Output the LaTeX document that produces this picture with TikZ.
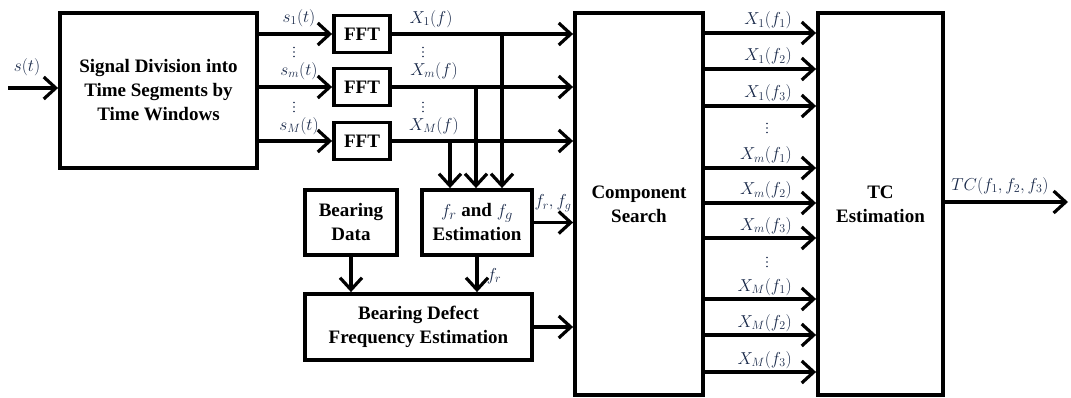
\documentclass[tikz,border=0pt]{standalone}
\usepackage{fontspec}
\setmainfont{Liberation Serif}
\usetikzlibrary{arrows.meta}
\definecolor{mathc}{HTML}{1A2A4A}
\begin{document}
\begin{tikzpicture}[x=1pt,y=-1pt,
  blk/.style={draw=black,line width=3.8pt,align=center,inner sep=0pt,
    font=\fontsize{19}{24}\selectfont\bfseries},
  conn/.style={line width=3.2pt,-{Straight Barb[length=12pt,width=22pt]}},
  lbl/.style={inner sep=0pt,text=mathc,font=\fontsize{18}{20}\selectfont},
  dot/.style={fill=mathc}]
\useasboundingbox (0,0) rectangle (1071,398);
% blocks
\node[blk,minimum width=197pt,minimum height=155pt] (sig) at (158.5,90.5) {Signal Division into\\Time Segments by\\Time Windows};
\node[blk,minimum width=56pt,minimum height=37pt] (fft1) at (362,34) {FFT};
\node[blk,minimum width=56pt,minimum height=37pt] (fft2) at (362,87) {FFT};
\node[blk,minimum width=56pt,minimum height=37pt] (fft3) at (362,141) {FFT};
\node[blk,minimum width=128pt,minimum height=382pt] (comp) at (639,204) {Component\\Search};
\node[blk,minimum width=125pt,minimum height=382pt] (tc) at (880.5,204) {TC\\Estimation};
\node[blk,minimum width=110pt,minimum height=65pt] (fre) at (477,222.5) {$\color{mathc}f_r$ and $\color{mathc}f_g$\\Estimation};
\node[blk,minimum width=92pt,minimum height=65pt] (bd) at (351,222.5) {Bearing\\Data};
\node[blk,minimum width=227pt,minimum height=66pt] (bdf) at (418.5,327) {Bearing Defect\\Frequency Estimation};
% input
\coordinate (in) at (8,88);
\draw[conn] (in) -- (in -| sig.west);
\node[lbl] (sl) at (27,67) {$s(t)$};
% signal to FFT
\draw[conn] (sig.east |- fft1) -- (fft1.west);
\draw[conn] (sig.east |- fft2) -- (fft2.west);
\draw[conn] (sig.east |- fft3) -- (fft3.west);
\node[lbl] (s1) at (299,18) {$s_1(t)$};
\node[lbl] (sm) at (299,71) {$s_m(t)$};
\node[lbl] (sM) at (299,126) {$s_M(t)$};
% FFT to component search
\draw[conn] (fft1.east) -- (fft1 -| comp.west);
\draw[conn] (fft2.east) -- (fft2 -| comp.west);
\draw[conn] (fft3.east) -- (fft3 -| comp.west);
\node[lbl] (x1) at (431,19) {$X_1(f)$};
\node[lbl] (xm) at (434,71) {$X_m(f)$};
\node[lbl] (xM) at (434,126) {$X_M(f)$};
% vertical dots
\foreach \x/\y in {294/52, 294/107, 423/52, 423/107, 767/128, 767/262}{
  \fill[dot] (\x,\y-4.5) circle (0.9pt) (\x,\y) circle (0.9pt) (\x,\y+4.5) circle (0.9pt);
}
% taps
\coordinate (t1) at (502,34);
\coordinate (t2) at (476,87);
\coordinate (t3) at (450,141);
\draw[conn] (t1) -- (t1 |- fre.north);
\draw[conn] (t2) -- (t2 |- fre.north);
\draw[conn] (t3) -- (t3 |- fre.north);
% lower blocks
\draw[conn] (fre.east) -- (fre -| comp.west);
\node[lbl] (frfg) at (553,203) {$f_r,f_g$};
\draw[conn] (bd.south) -- (bd.south |- bdf.north);
\draw[conn] (fre.south) -- (fre.south |- bdf.north);
\node[lbl] (frl) at (494,276) {$f_r$};
\draw[conn] (bdf.east) -- (bdf -| comp.west);
% component to TC
\foreach \y/\t/\n in {33/{X_1(f_1)}/a1, 69/{X_1(f_2)}/a2, 106/{X_1(f_3)}/a3,
                   168/{X_m(f_1)}/b1, 203/{X_m(f_2)}/b2, 238/{X_m(f_3)}/b3,
                   299/{X_M(f_1)}/c1, 335/{X_M(f_2)}/c2, 372/{X_M(f_3)}/c3}{
  \coordinate (o\n) at (703,\y);
  \draw[conn] (o\n) -- (o\n -| tc.west);
  \node[lbl,anchor=base east] (l\n) at (792,\y-8) {$\t$};
}
% output
\coordinate (out) at (1068,202);
\draw[conn] (tc.east |- out) -- (out);
\node[lbl] (tcl) at (1000,186) {$TC(f_1,f_2,f_3)$};
\end{tikzpicture}
\end{document}
